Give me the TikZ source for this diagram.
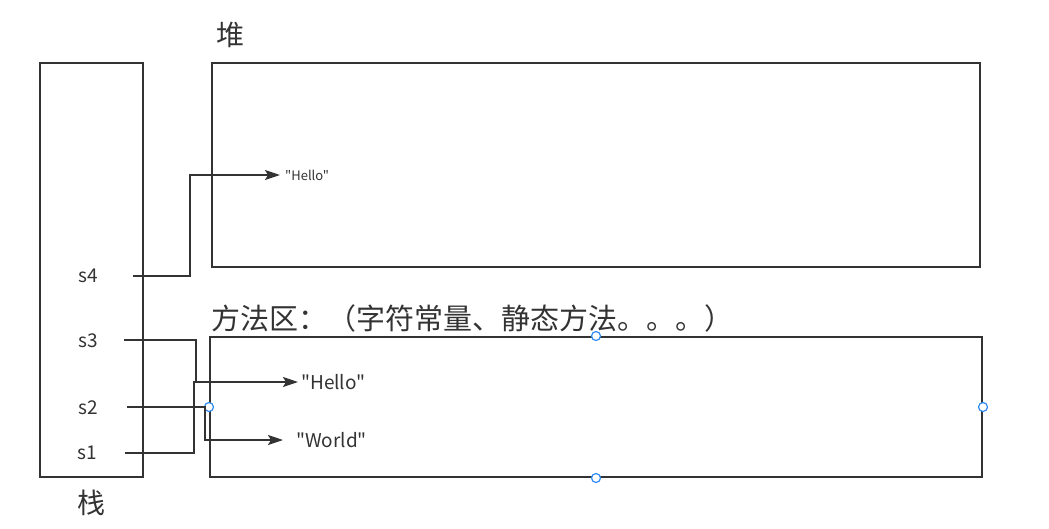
\documentclass[tikz,border=0pt]{standalone}
\usepackage{fontspec}
\newfontfamily\cjk{Noto Sans CJK SC}
\usepackage{tikz}
\usetikzlibrary{positioning, arrows.meta}
\definecolor{ink}{HTML}{333333}
\definecolor{handleblue}{HTML}{2F8CF0}
\tikzset{
	>={Stealth[length=15pt,width=10pt,inset=3pt]}, % arrow heads like the drawing tool
	area/.style={draw=ink, line width=2pt, inner sep=0pt}, % the memory regions
	ptr/.style={->, draw=ink, line width=2pt}, % reference with an arrow head
	ref/.style={draw=ink, line width=2pt}, % reference without a head
	var/.style={text=ink, inner sep=0pt, font=\cjk\fontsize{19}{21}\selectfont},
	title/.style={text=ink, inner sep=0pt, font=\cjk\fontsize{28}{30}\selectfont},
	handle/.style={circle, draw=handleblue, fill=white, line width=1.2pt, minimum size=9pt, inner sep=0pt},
}

\begin{document}
\begin{tikzpicture}[x=1pt, y=-1pt]
	\useasboundingbox (0,0) rectangle (1049,528);
	% regions
	\node[area, minimum width=103pt, minimum height=414pt] (stack) at (91.5,270) {};
	\node[area, minimum width=768pt, minimum height=204pt] (heap) at (596,165) {};
	\node[area, minimum width=772pt, minimum height=140pt] (method) at (596,407) {};
	\node[title, below=12pt of stack] (stacklabel) {栈};
	\node[title, above right=14pt and 5pt of heap.north west] (heaplabel) {堆};
	\node[title, above right=4pt and 2pt of method.north west, font=\cjk\fontsize{29}{31}\selectfont] (methodlabel) {方法区：（字符常量、静态方法。。。）};
	% selection handles
	\node[handle] (hn) at (method.north) {};
	\node[handle] (hs) at (method.south) {};
	\node[handle] (hw) at (method.west) {};
	\node[handle] (he) at (method.east) {};
	% variables on the stack
	\node[var] (s4) at (88,276) {s4};
	\node[var] (s3) at (88,341) {s3};
	\node[var] (s2) at (88,408) {s2};
	\node[var] (s1) at (87,453) {s1};
	\coordinate (s4out) at (133,276);
	\coordinate (s3out) at (124,340);
	\coordinate (s2out) at (127,407);
	\coordinate (s1out) at (125,453);
	% string objects
	\node[var, anchor=west, inner xsep=5pt, font=\cjk\fontsize{13}{15}\selectfont] (hheap) at (280,175) {"Hello"};
	\node[var, anchor=west, inner xsep=3pt] (hmeth) at (298,382) {"Hello"};
	\node[var, anchor=west, inner xsep=13pt] (wmeth) at (283,440) {"World"};
	% references
	\draw[ptr] (s4out) -- ++(57,0) |- (hheap.west);
	\draw[ref] (s3out) -- ++(72,0) -- ++(0,42);
	\draw[ptr] (s1out) -- ++(69,0) |- (hmeth.west);
	\draw[ptr] (s2out) -- ++(78,0) |- (wmeth.west);
\end{tikzpicture}
\end{document}
